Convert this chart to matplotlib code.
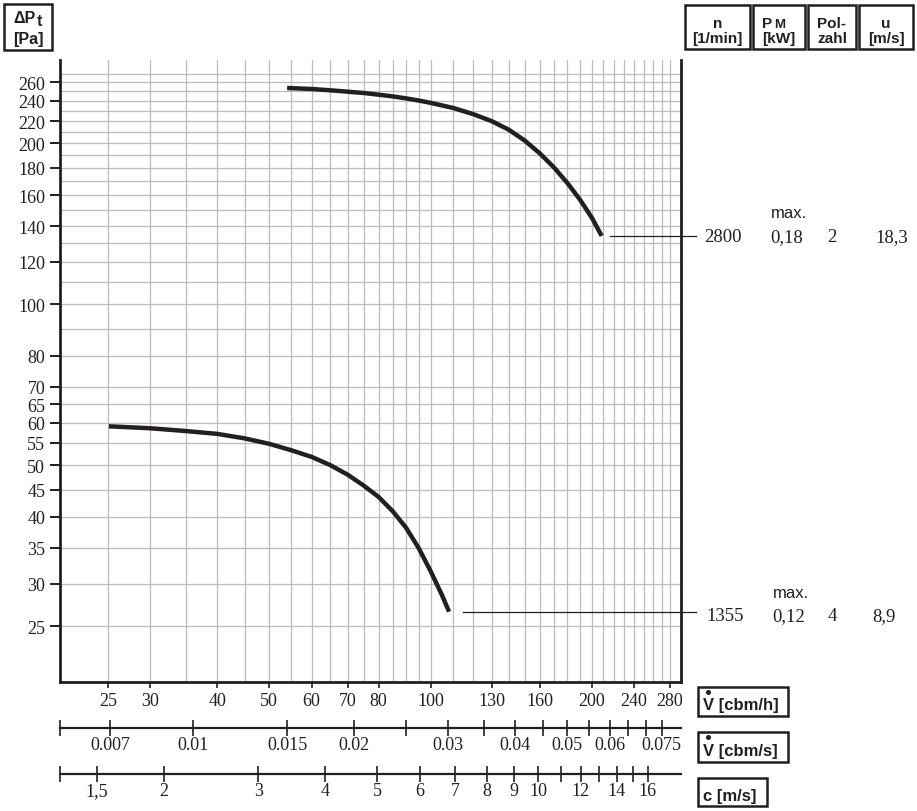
import numpy as np
import matplotlib
matplotlib.use('Agg')
import matplotlib.pyplot as plt
from matplotlib.patches import Rectangle
from matplotlib.lines import Line2D
from matplotlib.ticker import FixedLocator, FixedFormatter, NullFormatter
from matplotlib.transforms import blended_transform_factory

# ---------------- data ----------------
upper_V = [54.0, 60, 65, 70, 75, 80, 85, 90, 95, 100, 110, 120, 130, 140, 150, 160, 170, 180, 190, 200, 208.7]
upper_P = [253.7, 252.6, 251.2, 249.7, 248.3, 246.5, 244.7, 242.6, 240.4, 238.0, 232.9, 226.8, 220.0,
           212.0, 202.2, 191.4, 180.2, 168.6, 157.0, 145.2, 134.2]

lower_V = [25.1, 30, 35, 40, 45, 50, 55, 60, 65, 70, 75, 80, 85, 90, 95, 100, 105, 108.3]
lower_P = [59.1, 58.6, 57.9, 57.2, 56.1, 54.8, 53.3, 51.8, 50.0, 48.0, 45.8, 43.6, 41.0, 38.2, 35.0,
           31.7, 28.6, 26.6]

x_ticks = [25, 30, 40, 50, 60, 70, 80, 100, 130, 160, 200, 240, 280]
x_grid_extra = [35, 45, 55, 65, 75, 85, 90, 95, 110, 120, 140, 150, 170, 180, 190,
                210, 220, 230, 250, 260, 270]
y_ticks = [25, 30, 35, 40, 45, 50, 55, 60, 65, 70, 80, 100, 120, 140, 160, 180, 200, 220, 240, 260]
y_grid_extra = [90, 110, 130, 150, 170, 190, 210, 230, 250, 270]

cbms_ticks = [0.007, 0.01, 0.015, 0.02, 0.03, 0.04, 0.05, 0.06, 0.075]
cbms_labels = ['0.007', '0.01', '0.015', '0.02', '0.03', '0.04', '0.05', '0.06', '0.075']
cbms_minor = [0.025, 0.035, 0.045, 0.055, 0.065, 0.07]

c_ticks = [1.5, 2, 3, 4, 5, 6, 7, 8, 9, 10, 12, 14, 16]
c_labels = ['1,5', '2', '3', '4', '5', '6', '7', '8', '9', '10', '12', '14', '16']
c_minor = [11, 13, 15]

duct_d = 0.075  # m

rows = [
    # n, P_M, Polzahl, u
    ('2800', '0,18', '2', '18,3'),
    ('1355', '0,12', '4', '8,9'),
]

# ---------------- figure ----------------
W, H = 917, 812
fig = plt.figure(figsize=(W / 100, H / 100), dpi=100)
INK = '#231f20'
SERIF = 'Liberation Serif'
SANS = 'Liberation Sans'


def fx(x):
    return x / W


def fy(y):
    return 1 - y / H


L, R, T, B = 60, 681, 61, 683
ax = fig.add_axes([fx(L), fy(B), (R - L) / W, (B - T) / H])
ax.set_xscale('log')
ax.set_yscale('log')
xlim = (20.34, 293.5)
ax.set_xlim(*xlim)
ax.set_ylim(19.65, 286.2)

ax.xaxis.set_major_locator(FixedLocator(x_ticks))
ax.xaxis.set_major_formatter(FixedFormatter([str(v) for v in x_ticks]))
ax.xaxis.set_minor_locator(FixedLocator(x_grid_extra))
ax.xaxis.set_minor_formatter(NullFormatter())
ax.yaxis.set_major_locator(FixedLocator(y_ticks))
ax.yaxis.set_major_formatter(FixedFormatter([str(v) for v in y_ticks]))
ax.yaxis.set_minor_locator(FixedLocator(y_grid_extra))
ax.yaxis.set_minor_formatter(NullFormatter())

ax.tick_params(axis='x', which='major', direction='out', length=4, width=1.2,
               pad=3, labelsize=13, colors=INK)
ax.tick_params(axis='y', which='major', direction='out', length=7.2, width=1.4,
               pad=3.5, labelsize=13, colors=INK)
ax.tick_params(which='minor', length=0)
for lab in ax.get_xticklabels() + ax.get_yticklabels():
    lab.set_fontfamily(SERIF)

ax.grid(True, which='both', color='#bcbcbc', linewidth=0.9)
ax.set_axisbelow(True)
ax.spines['top'].set_visible(False)
for s in ('left', 'right', 'bottom'):
    ax.spines[s].set_linewidth(2.0)
    ax.spines[s].set_color(INK)

ax.plot(upper_V, upper_P, color=INK, lw=3.2, solid_capstyle='butt', solid_joinstyle='round')
ax.plot(lower_V, lower_P, color=INK, lw=3.2, solid_capstyle='butt', solid_joinstyle='round')

# leader lines
tr = blended_transform_factory(ax.transAxes, ax.transData)
ax.add_line(Line2D([0.8857, 1.024], [upper_P[-1], upper_P[-1]], transform=tr,
                   color=INK, lw=0.9, clip_on=False))
ax.add_line(Line2D([0.649, 1.024], [lower_P[-1], lower_P[-1]], transform=tr,
                   color=INK, lw=0.9, clip_on=False))


# ---------------- secondary scales ----------------
def scale_axis(ypix, factor, majors, labels, minors):
    a = fig.add_axes([fx(L), fy(ypix), (R - L) / W, 1e-6])
    a.set_xscale('log')
    a.set_xlim(xlim[0] / factor, xlim[1] / factor)
    a.patch.set_visible(False)
    a.set_yticks([])
    for s in ('top', 'left', 'right'):
        a.spines[s].set_visible(False)
    a.spines['bottom'].set_linewidth(1.6)
    a.spines['bottom'].set_color(INK)
    a.xaxis.set_major_locator(FixedLocator(majors))
    a.xaxis.set_major_formatter(FixedFormatter(labels))
    a.xaxis.set_minor_locator(FixedLocator(minors + [xlim[0] / factor * 1.0001]))
    a.xaxis.set_minor_formatter(NullFormatter())
    a.tick_params(axis='x', which='both', direction='inout', length=11, width=1.2,
                  pad=0.5, labelsize=13, colors=INK)
    for lab in a.get_xticklabels():
        lab.set_fontfamily(SERIF)
    return a


scale_axis(729, 3600.0, cbms_ticks, cbms_labels, cbms_minor)
area = np.pi * duct_d ** 2 / 4
scale_axis(775, 3600.0 * area, c_ticks, c_labels, c_minor)


# ---------------- boxes & labels ----------------
def box(x0, y0, x1, y1, lw=1.8):
    fig.add_artist(Rectangle((fx(x0), fy(y1)), (x1 - x0) / W, (y1 - y0) / H,
                             transform=fig.transFigure, fill=False, lw=lw, ec=INK))


def t(x, y, s, size=11, ha='center', va='baseline', family=SANS, weight='bold'):
    fig.text(fx(x), fy(y), s, ha=ha, va=va, fontsize=size, family=family,
             fontweight=weight, color=INK)


# left header
box(4, 5, 52, 51)
t(36, 23, 'ΔP', ha='right', size=11.5)
t(36.5, 26, 't', ha='left', size=11.5)
t(28, 44, '[Pa]', size=11.5)

# right headers
box(685, 6, 750, 50)
t(717.5, 28, 'n')
t(717.5, 43, '[1/min]')
box(753, 6, 805, 50)
t(772, 28, 'P', ha='right')
t(774, 28, 'M', ha='left', size=9.5)
t(779, 43, '[kW]')
box(808, 6, 856, 50)
t(832, 28, 'Pol-')
t(832, 43, 'zahl')
box(859, 6, 913, 50)
t(886, 28, 'u')
t(886, 43, '[m/s]')

# bottom axis labels
box(698, 688, 788, 717)
t(703, 710, 'V [cbm/h]', size=12, ha='left')
box(698, 733, 788, 763)
t(703, 756, 'V [cbm/s]', size=12, ha='left')
box(698, 779, 767, 807)
t(703, 801, 'c [m/s]', size=12, ha='left')
for yd in (692.5, 738):
    fig.add_artist(Line2D([fx(708.2)], [fy(yd)], marker='o', ms=2.6, color=INK,
                          transform=fig.transFigure))

# right table
row_base = [242.5, 621]
max_base = [218.5, 597.5]
cols_x = [704, 770, 827, 875]
cols_x2 = [706, 772, 828, 872]
for i, (row, yb, ym) in enumerate(zip(rows, row_base, max_base)):
    xs = cols_x if i == 0 else cols_x2
    for xv, s in zip(xs, row):
        t(xv, yb, s, size=13.5, ha='left', family=SERIF, weight='normal')
    t(xs[1] + 1, ym, 'max.', size=12, ha='left', weight='normal')

fig.savefig('out.png', dpi=100)
